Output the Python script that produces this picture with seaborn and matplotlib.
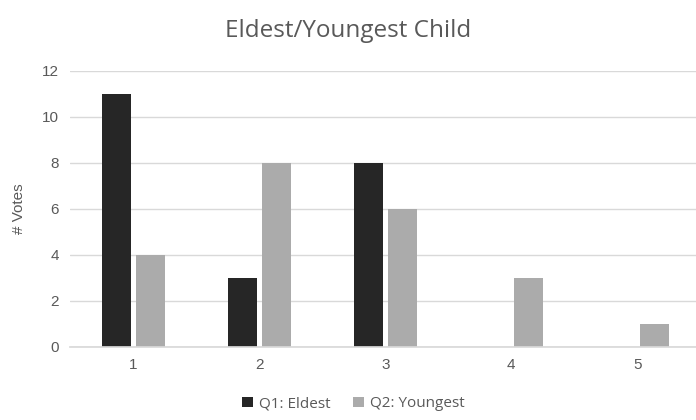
import numpy as np
import pandas as pd
import matplotlib
matplotlib.use("Agg")
import matplotlib.pyplot as plt
import seaborn as sns

categories = ["1", "2", "3", "4", "5"]
eldest = [11, 3, 8, 0, 0]
youngest = [4, 8, 6, 3, 1]
series_names = ["Q1: Eldest", "Q2: Youngest"]
y_ticks = [0, 2, 4, 6, 8, 10, 12]

df = pd.DataFrame({
    "child": categories * 2,
    "votes": eldest + youngest,
    "series": [series_names[0]] * len(categories) + [series_names[1]] * len(categories),
})

sns.set_theme(style="white")
plt.rcParams["font.family"] = ["Liberation Sans", "DejaVu Sans"]

fig = plt.figure(figsize=(6.96, 4.2), dpi=100)
ax = fig.add_axes([0.101, 0.174, 0.905, 0.657])

palette = {series_names[0]: "#262626", series_names[1]: "#ababab"}
sns.barplot(data=df, x="child", y="votes", hue="series", palette=palette,
            width=0.54, gap=0.15, ax=ax, saturation=1, legend=True,
            edgecolor="none", linewidth=0)

ax.set_ylim(0, 12)
ax.set_xlim(-0.5, 4.5)
ax.set_yticks(y_ticks)
ax.yaxis.grid(True, color="#d9d9d9", linewidth=1)
ax.set_axisbelow(True)
for side in ["top", "right", "left"]:
    ax.spines[side].set_visible(False)
ax.spines["bottom"].set_color("#d9d9d9")
ax.tick_params(axis="both", colors="#595959", labelsize=11, length=0, pad=8)
ax.set_xlabel("")
ax.set_ylabel("# Votes", color="#595959", fontsize=11, labelpad=12)
fig.suptitle("Eldest/Youngest Child", color="#595959", fontsize=17.5, y=0.955,
             family=["Open Sans", "DejaVu Sans"])

handles, labels = ax.get_legend_handles_labels()
ax.get_legend().remove()
fig.legend(handles, labels, loc="lower center", bbox_to_anchor=(0.508, -0.012), ncol=2,
           frameon=False, fontsize=11, handlelength=0.7, handleheight=0.7,
           columnspacing=1.5, handletextpad=0.4, labelcolor="#595959",
           prop={"family": ["Open Sans", "DejaVu Sans"], "size": 11})

fig.savefig("out.png", dpi=100)
